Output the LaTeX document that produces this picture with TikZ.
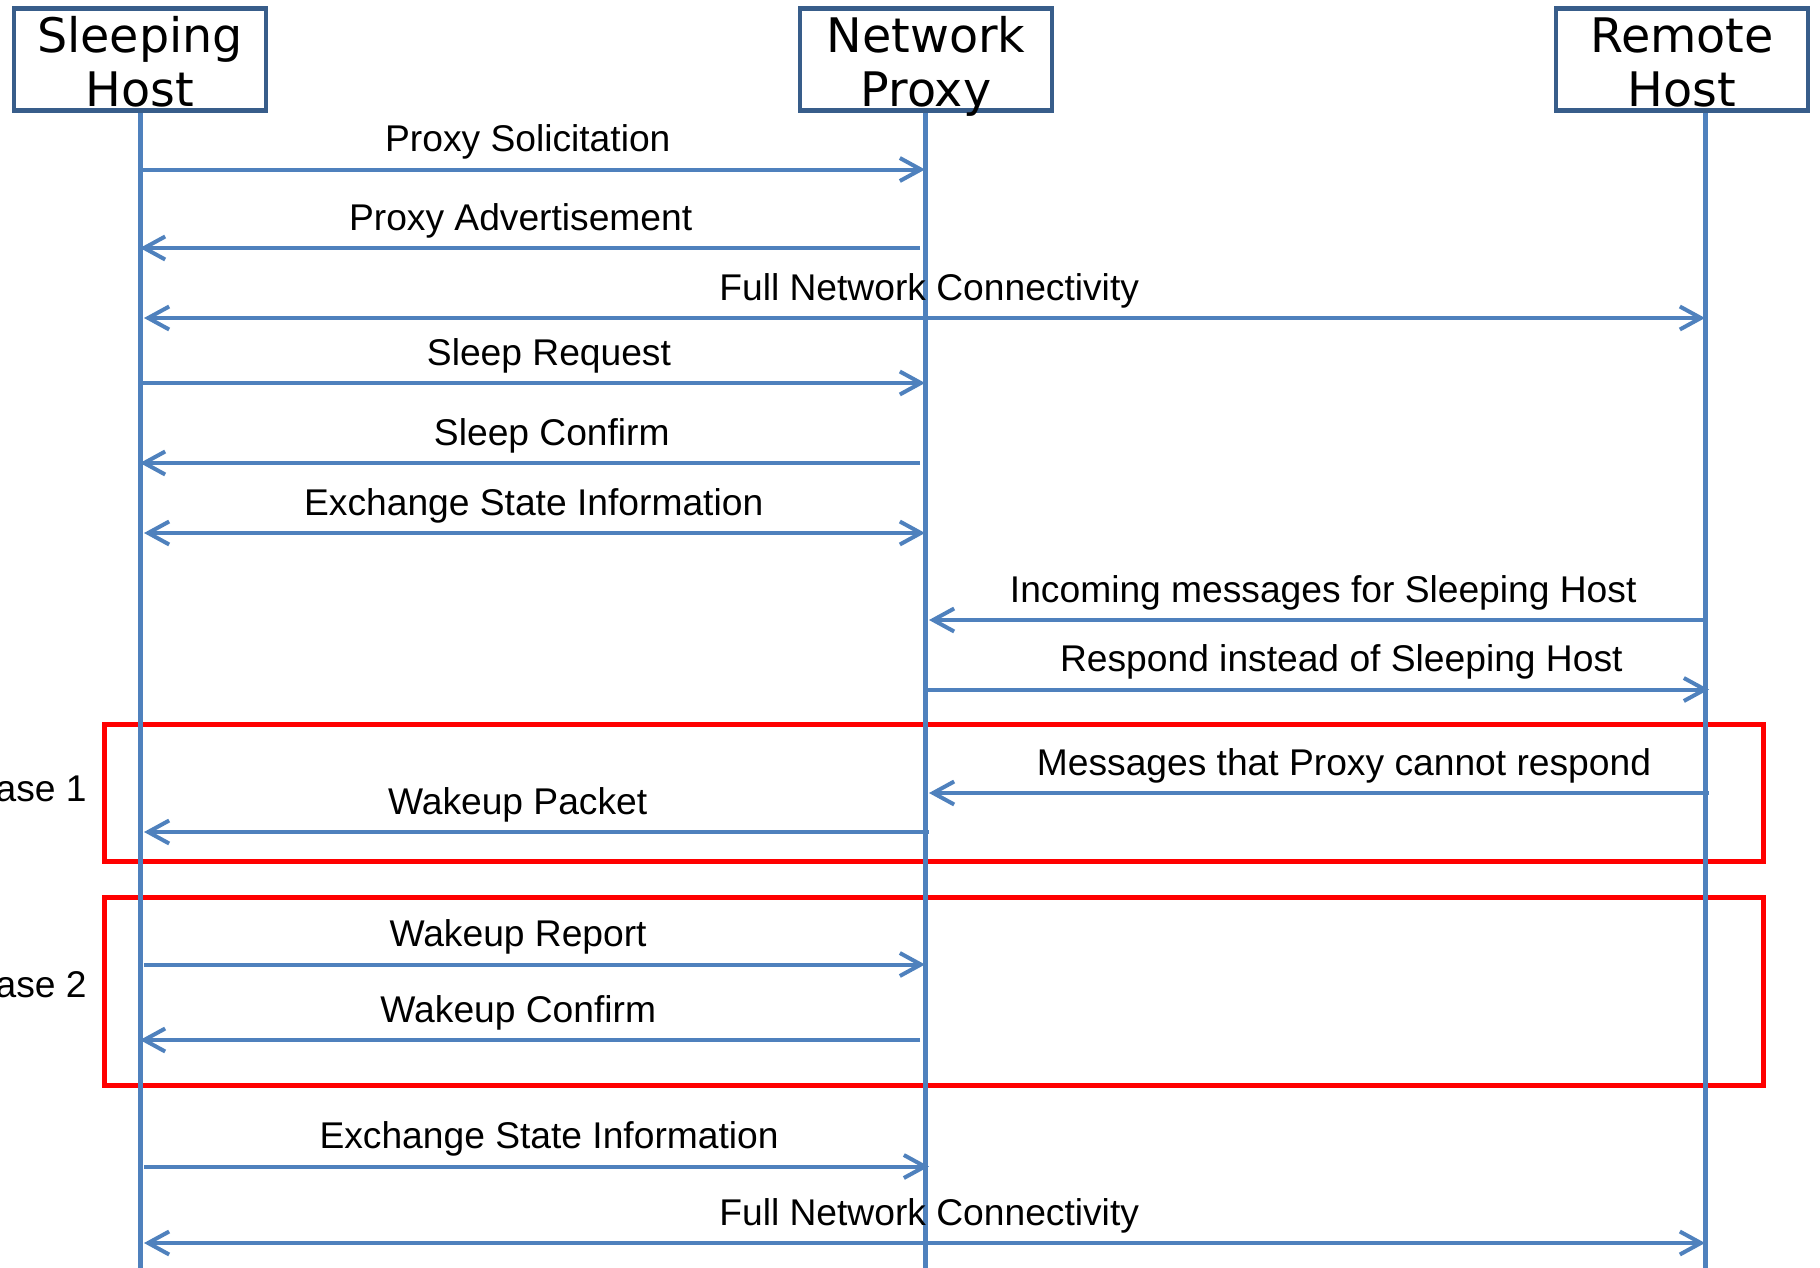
\documentclass[tikz,border=0pt]{standalone}
\usepackage{fontspec}
\setmainfont{Liberation Sans}
\newfontfamily\hdrfont{DejaVu Sans}
\usetikzlibrary{arrows.meta}
\definecolor{lifeblue}{RGB}{79,129,189}
\definecolor{boxblue}{RGB}{56,93,138}
\tikzset{chev/.tip={Straight Barb[length=10.5pt,width=11.5pt]}}
\newcommand{\hdrtext}[2]{\rule{0pt}{20pt}#1\\\smash{#2}}

\begin{document}
\begin{tikzpicture}[x=0.5pt,y=-0.5pt,
		entity/.style={draw=boxblue,line width=2.3pt,minimum width=126pt,minimum height=51pt,
			inner sep=0pt,align=center,font=\hdrfont\fontsize{23.8}{27.5}\selectfont},
		life/.style={lifeblue,line width=2.5pt},
		msg/.style={lifeblue,line width=2pt,-chev},
		both/.style={lifeblue,line width=2pt,chev-chev},
		lbl/.style={black,anchor=base,yshift=9pt,inner sep=0pt,font=\fontsize{18.6}{22}\selectfont},
		casetxt/.style={black,anchor=east,inner sep=0pt,font=\fontsize{18.6}{22}\selectfont},
		casebox/.style={draw=red,line width=2.5pt}]
		\clip (0,0) rectangle (1820,1268);
%		\draw[help lines,step=100] (0,0) grid (1820,1268);
		\path (140,1268) coordinate (sleep_bot);
		\path (925,1268) coordinate (proxy_bot);
		\path (1705,1268) coordinate (remote_bot);
		\path (140,169.5) coordinate (sol_left);
		\path (925,169.5) coordinate (sol_right);
		\path (140,248) coordinate (adv_left);
		\path (920,248) coordinate (adv_right);
		\path (144,318) coordinate (full_left);
		\path (1705,318) coordinate (full_right);
		\path (140,383) coordinate (sreq_left);
		\path (925,383) coordinate (sreq_right);
		\path (140,463) coordinate (sconf_left);
		\path (920,463) coordinate (sconf_right);
		\path (144,533) coordinate (xch_left);
		\path (925,533) coordinate (xch_right);
		\path (929,620) coordinate (inc_left);
		\path (1705,620) coordinate (inc_right);
		\path (925,689.5) coordinate (resp_left);
		\path (1709,689.5) coordinate (resp_right);
		\path (929,793) coordinate (cant_left);
		\path (1709,793) coordinate (cant_right);
		\path (144,832) coordinate (wpkt_left);
		\path (929,832) coordinate (wpkt_right);
		\path (144,964.5) coordinate (wrep_left);
		\path (925,964.5) coordinate (wrep_right);
		\path (140,1040) coordinate (wconf_left);
		\path (920,1040) coordinate (wconf_right);
		\path (144,1166.5) coordinate (xch2_left);
		\path (929,1166.5) coordinate (xch2_right);
		\path (144,1243) coordinate (full2_left);
		\path (1705,1243) coordinate (full2_right);

		% the two wakeup cases
		\draw[casebox] (104,724) rectangle (1763,861.5);
		\draw[casebox] (104,897) rectangle (1763,1085.5);
		\path (87,789) node(case1) [casetxt] {Case 1};
		\path (87,985) node(case2) [casetxt] {Case 2};

		\path (140,59.5) node(sleep) [entity] {\hdrtext{Sleeping}{Host}};
		\path (926,59.5) node(proxy) [entity] {\hdrtext{Network}{Proxy}};
		\path (1682,59.5) node(remote) [entity] {\hdrtext{Remote}{Host}};
		\draw[life] (sleep.south) -- (sleep_bot);
		\draw[life] (proxy.south -| proxy_bot) -- (proxy_bot);
		\draw[life] (remote.south -| remote_bot) -- (remote_bot);

		\draw[msg] (sol_left) -- (sol_right)
			node[lbl,pos=0.494] {Proxy Solicitation};
		\draw[msg] (adv_right) -- (adv_left)
			node[lbl,pos=0.512] {Proxy Advertisement};
		\draw[both] (full_left) -- (full_right)
			node[lbl,pos=0.503] {Full Network Connectivity};
		\draw[msg] (sreq_left) -- (sreq_right)
			node[lbl,pos=0.521] {Sleep Request};
		\draw[msg] (sconf_right) -- (sconf_left)
			node[lbl,pos=0.472] {Sleep Confirm};
		\draw[both] (xch_left) -- (xch_right)
			node[lbl,pos=0.499] {Exchange State Information};
		\draw[msg] (inc_right) -- (inc_left)
			node[lbl,pos=0.492] {Incoming messages for Sleeping Host};
		\draw[msg] (resp_left) -- (resp_right)
			node[lbl,pos=0.531] {Respond instead of Sleeping Host};
		\draw[msg] (cant_right) -- (cant_left)
			node[lbl,pos=0.468] {Messages that Proxy cannot respond};
		\draw[msg] (wpkt_right) -- (wpkt_left)
			node[lbl,pos=0.524] {Wakeup Packet};
		\draw[msg] (wrep_left) -- (wrep_right)
			node[lbl,pos=0.479] {Wakeup Report};
		\draw[msg] (wconf_right) -- (wconf_left)
			node[lbl,pos=0.515] {Wakeup Confirm};
		\draw[msg] (xch2_left) -- (xch2_right)
			node[lbl,pos=0.516] {Exchange State Information};
		\draw[both] (full2_left) -- (full2_right)
			node[lbl,pos=0.503] {Full Network Connectivity};
	\end{tikzpicture}
\end{document}
